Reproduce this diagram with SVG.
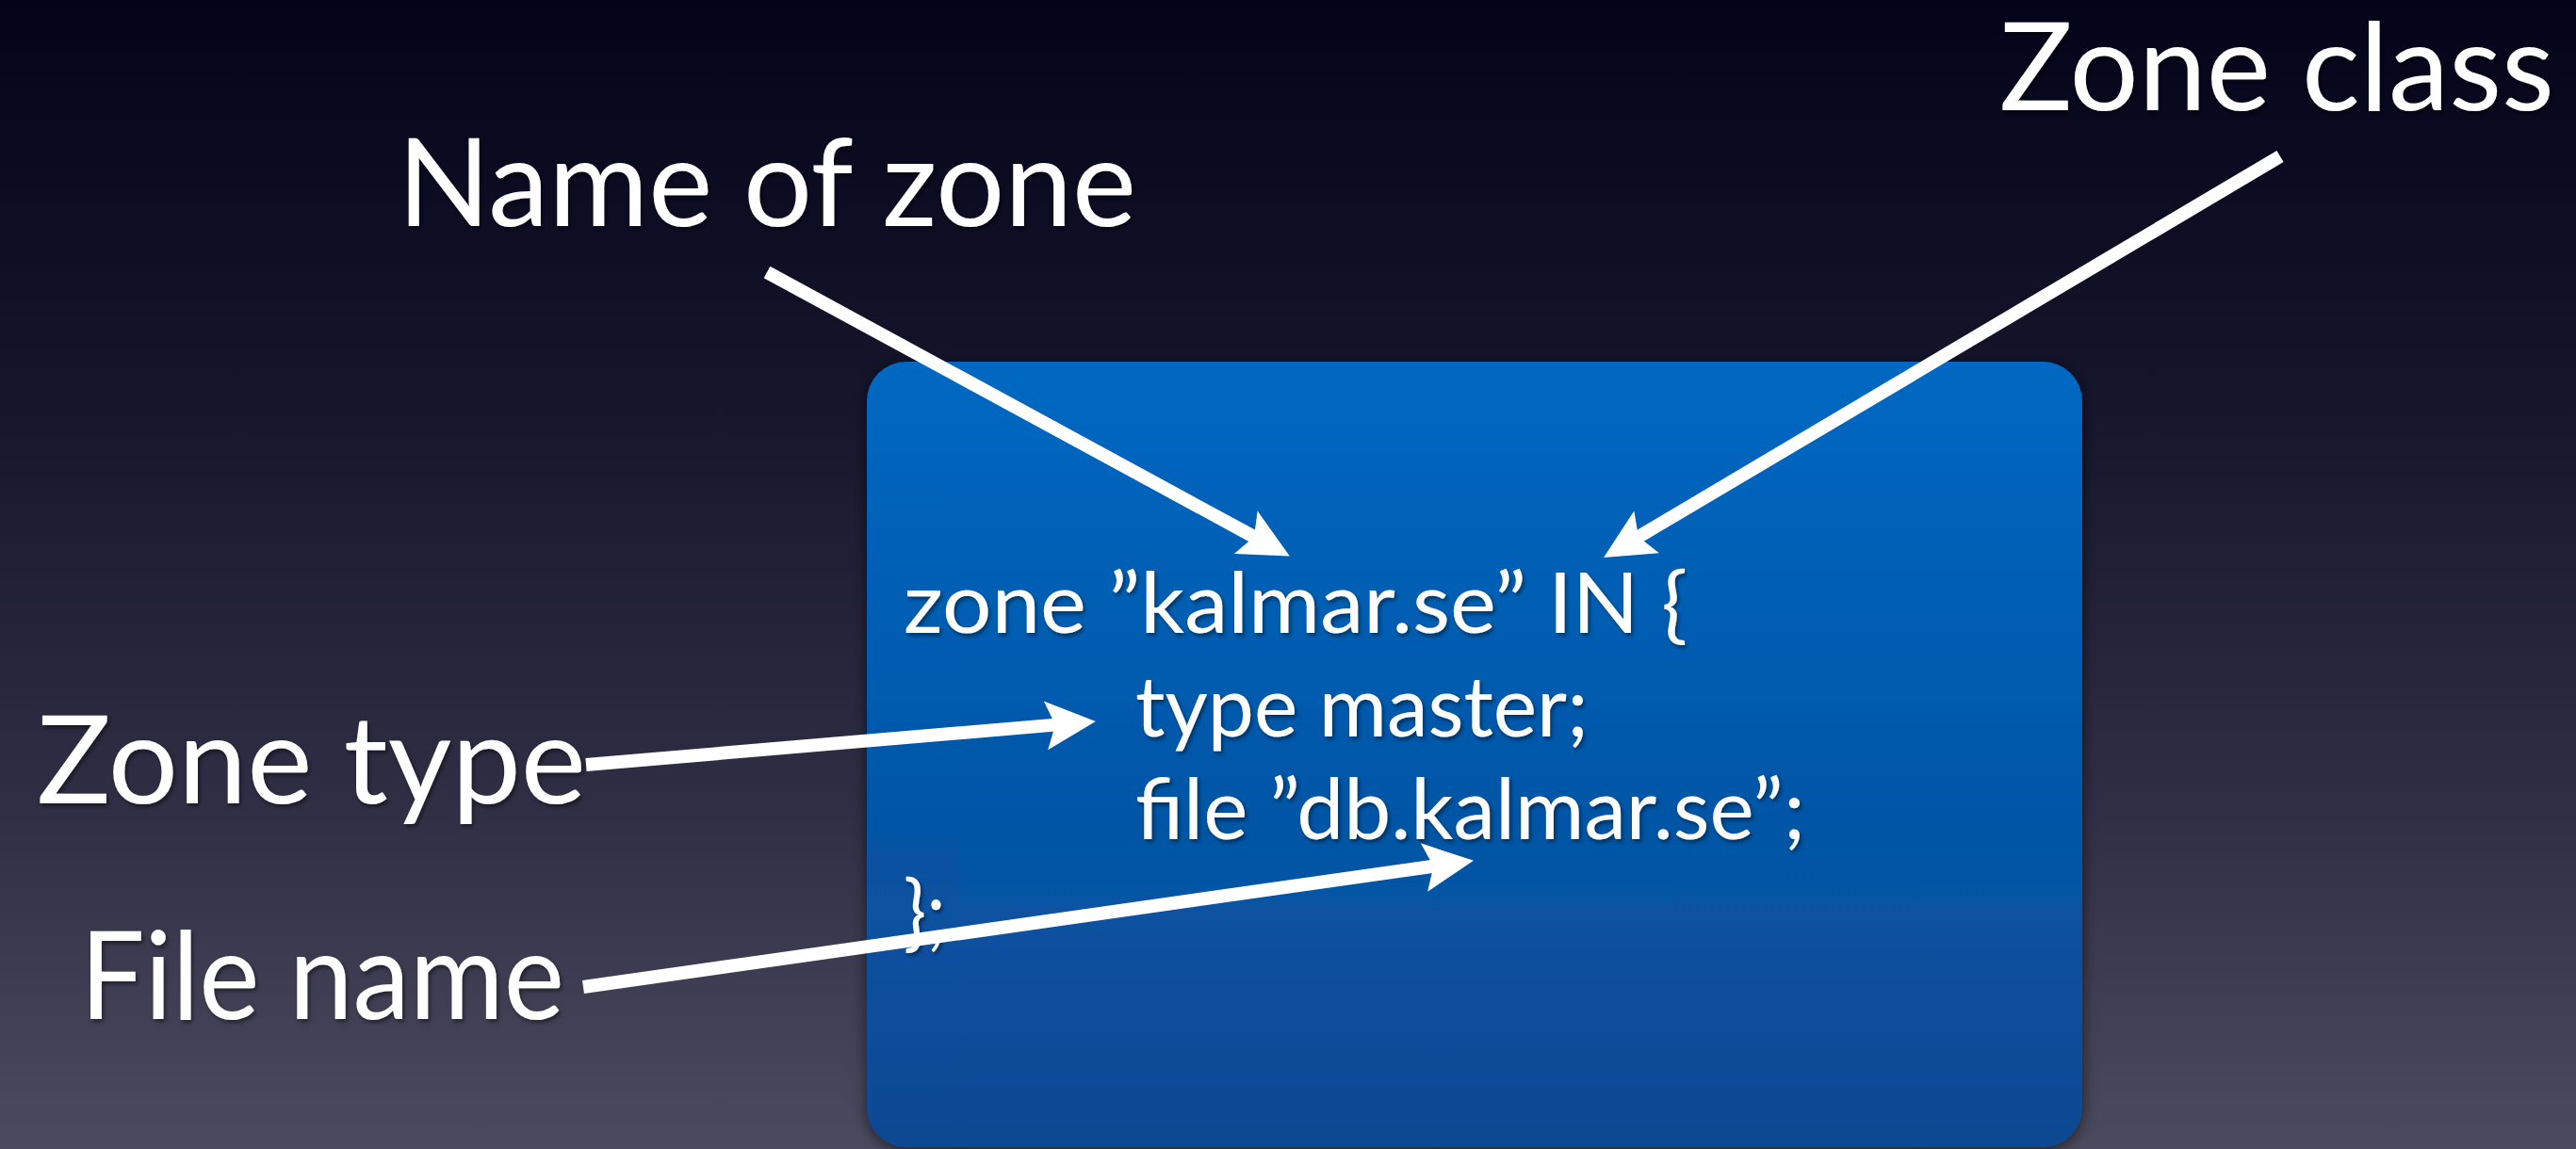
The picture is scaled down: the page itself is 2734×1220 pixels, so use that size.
<svg xmlns="http://www.w3.org/2000/svg" width="2734" height="1220" viewBox="0 0 2734 1220">
  <defs>
    <linearGradient id="bg" x1="0" y1="0" x2="0" y2="1">
      <stop offset="0" stop-color="#03031a"/>
      <stop offset="0.35" stop-color="#15152c"/>
      <stop offset="0.7" stop-color="#2f2e45"/>
      <stop offset="1" stop-color="#4c4a5e"/>
    </linearGradient>
    <linearGradient id="boxfill" x1="0" y1="0" x2="0" y2="1">
      <stop offset="0" stop-color="#0068c2"/>
      <stop offset="1" stop-color="#0a4892"/>
    </linearGradient>
    <filter id="boxshadow" x="-10%" y="-10%" width="120%" height="120%">
      <feDropShadow dx="0" dy="4" stdDeviation="8" flood-color="#000000" flood-opacity="0.55"/>
    </filter>
    <filter id="txtshadow" x="-5%" y="-20%" width="110%" height="140%">
      <feDropShadow dx="2" dy="3" stdDeviation="2" flood-color="#000000" flood-opacity="0.45"/>
    </filter>
    <marker id="head" markerUnits="userSpaceOnUse" viewBox="0 0 53 52" markerWidth="53" markerHeight="52" refX="10" refY="26" orient="auto" overflow="visible">
      <path d="M53,26 L0,0 L10,26 L0,52 Z" fill="#ffffff"/>
    </marker>
  </defs>
  <style>
    .label { font-family: "Lato", "Open Sans", "Liberation Sans", sans-serif; font-size: 130px; fill: #ffffff; filter: url(#txtshadow); }
    .code { font-family: "Lato", "Open Sans", "Liberation Sans", sans-serif; font-size: 89px; fill: #ffffff; filter: url(#txtshadow); }
    .conn { stroke: #ffffff; stroke-width: 14; fill: none; stroke-linecap: butt; marker-end: url(#head); }
  </style>

  <rect x="0" y="0" width="2734" height="1220" fill="url(#bg)"/>

  <g id="zone-box">
    <rect x="920" y="384" width="1290" height="834" rx="42" ry="42" fill="url(#boxfill)" filter="url(#boxshadow)"/>
    <text class="code" x="959" y="672" textLength="832" lengthAdjust="spacingAndGlyphs">zone ”kalmar.se” IN {</text>
    <text class="code" x="1205" y="782" textLength="481" lengthAdjust="spacingAndGlyphs">type master;</text>
    <text class="code" x="1205" y="891" textLength="711" lengthAdjust="spacingAndGlyphs">file ”db.kalmar.se”;</text>
    <text class="code" x="959" y="999" textLength="45" lengthAdjust="spacingAndGlyphs">};</text>
  </g>

  <g id="label-name-of-zone">
    <text class="label" x="422" y="240" textLength="784" lengthAdjust="spacingAndGlyphs">Name of zone</text>
  </g>
  <g id="label-zone-class">
    <text class="label" x="2122" y="117" textLength="589" lengthAdjust="spacingAndGlyphs">Zone class</text>
  </g>
  <g id="label-zone-type">
    <text class="label" x="39" y="853" textLength="583" lengthAdjust="spacingAndGlyphs">Zone type</text>
  </g>
  <g id="label-file-name">
    <text class="label" x="85" y="1082" textLength="514" lengthAdjust="spacingAndGlyphs">File name</text>
  </g>

  <g id="connectors">
    <line class="conn" x1="814" y1="289" x2="1331" y2="570"/>
    <line class="conn" x1="2420" y1="166" x2="1739" y2="570"/>
    <line class="conn" x1="622" y1="812" x2="1120" y2="769.6"/>
    <line class="conn" x1="619" y1="1048" x2="1521.4" y2="919.7"/>
  </g>
</svg>
